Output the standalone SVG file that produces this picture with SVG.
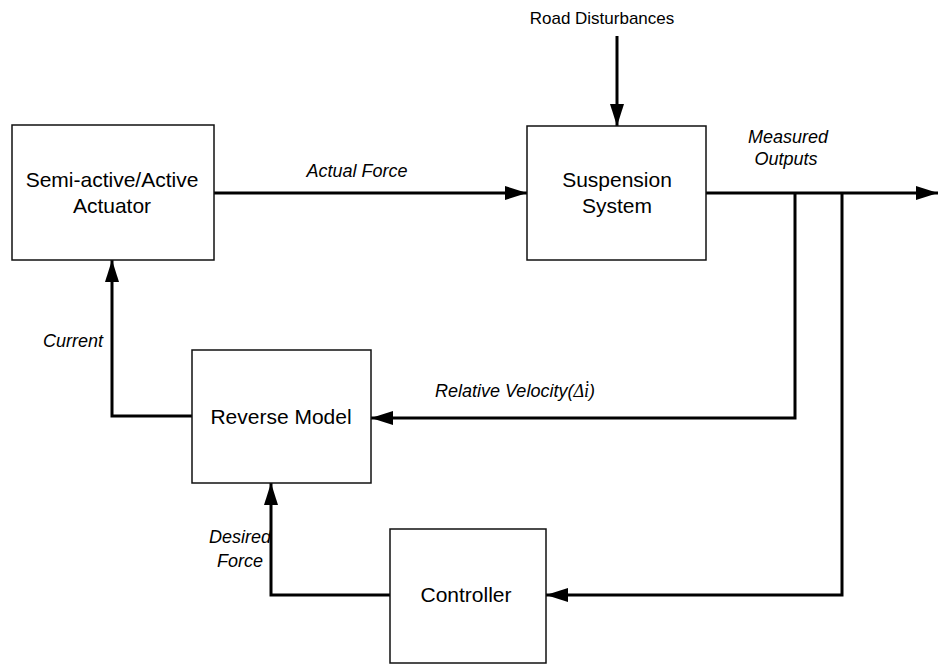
<svg xmlns="http://www.w3.org/2000/svg" width="938" height="664" viewBox="0 0 938 664">
  <style>
    .box { fill: #ffffff; stroke: #111111; stroke-width: 1.5; }
    .wire { fill: none; stroke: #000000; stroke-width: 3; }
    .node-label { font-family: "Liberation Sans", Arial, sans-serif; font-size: 21px; fill: #000000; text-anchor: middle; }
    .sig { font-family: "Liberation Sans", Arial, sans-serif; font-size: 18px; font-style: italic; fill: #000000; }
    .title { font-family: "Liberation Sans", Arial, sans-serif; font-size: 17px; fill: #000000; text-anchor: middle; }
  </style>
  <defs>
    <marker id="arrow" viewBox="0 0 22 14" refX="22" refY="7" markerWidth="22" markerHeight="14" markerUnits="userSpaceOnUse" orient="auto">
      <path d="M0,0 L22,7 L0,14 Z" fill="#000000"/>
    </marker>
  </defs>
  <rect width="938" height="664" fill="#ffffff"/>

  <!-- connectors -->
  <g id="connectors">
    <path class="wire" d="M617,36 V126" marker-end="url(#arrow)"/>
    <path class="wire" d="M214,193 H527" marker-end="url(#arrow)"/>
    <path class="wire" d="M706,193 H938" marker-end="url(#arrow)"/>
    <path class="wire" d="M795,193 V418 H371" marker-end="url(#arrow)"/>
    <path class="wire" d="M842,193 V595 H546" marker-end="url(#arrow)"/>
    <path class="wire" d="M192,416 H112 V260" marker-end="url(#arrow)"/>
    <path class="wire" d="M390,595 H271 V483" marker-end="url(#arrow)"/>
  </g>

  <!-- signal labels -->
  <g id="labels">
    <text class="title" x="602" y="24">Road Disturbances</text>
    <text class="sig" x="357" y="177" text-anchor="middle">Actual Force</text>
    <text class="sig" x="788" y="143" text-anchor="middle">Measured</text>
    <text class="sig" x="786" y="165" text-anchor="middle">Outputs</text>
    <text class="sig" x="103" y="347" text-anchor="end">Current</text>
    <text class="sig" x="435" y="397">Relative Velocity(<tspan font-family="'Liberation Serif', 'Times New Roman', serif">Δi̇</tspan>)</text>
    <text class="sig" x="271" y="543" text-anchor="end">Desired</text>
    <text class="sig" x="263" y="567" text-anchor="end">Force</text>
  </g>

  <g id="actuator">
    <rect class="box" x="12" y="125" width="202" height="135"/>
    <text class="node-label" x="112" y="187">Semi-active/Active</text>
    <text class="node-label" x="112" y="213">Actuator</text>
  </g>

  <g id="suspension">
    <rect class="box" x="527" y="126" width="179" height="134"/>
    <text class="node-label" x="617" y="187">Suspension</text>
    <text class="node-label" x="617" y="213">System</text>
  </g>

  <g id="reverse-model">
    <rect class="box" x="192" y="350" width="179" height="133"/>
    <text class="node-label" x="281" y="424">Reverse Model</text>
  </g>

  <g id="controller">
    <rect class="box" x="390" y="529" width="156" height="134"/>
    <text class="node-label" x="466" y="602">Controller</text>
  </g>
</svg>
